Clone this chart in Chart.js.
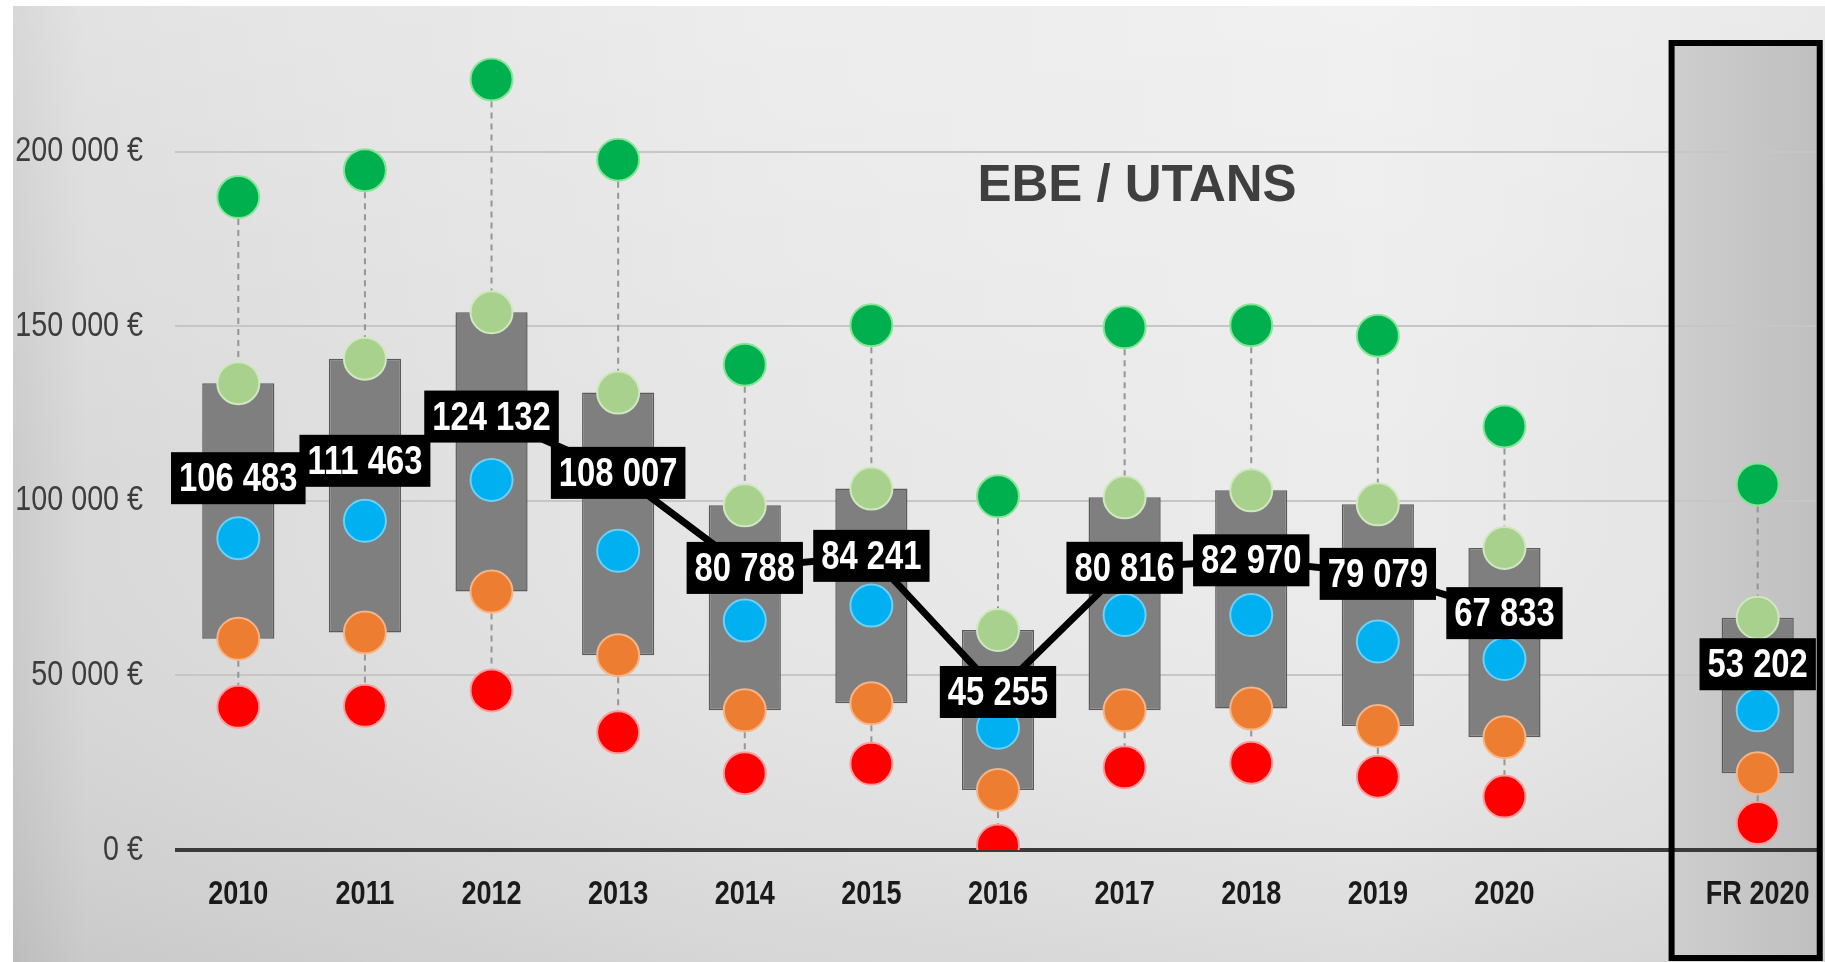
<!DOCTYPE html>
<html>
<head>
<meta charset="utf-8">
<title>EBE / UTANS</title>
<script src="https://cdn.jsdelivr.net/npm/chart.js@4.4.1/dist/chart.umd.min.js"></script>
<style>
  html, body { margin: 0; padding: 0; background: #fff; }
  #wrap { width: 1825px; height: 962px; position: relative; }
</style>
</head>
<body>
<div id="wrap"><canvas id="chart"></canvas></div>
<script>
// categories (empty slot separates the regional years from the national reference)
const labels = ['2010', '2011', '2012', '2013', '2014', '2015', '2016', '2017', '2018', '2019', '2020', '', 'FR 2020'];

// EBE / UTANS distribution, in euros
const decile9 = [187000, 194700, 220700, 197700, 139000, 150300, 101300, 149700, 150300, 147300, 121300, null, 104700];
const quart3  = [133700, 140700, 154000, 131000, 98700, 103500, 63000, 101000, 103000, 99000, 86500, null, 66500];
const median  = [89300, 94300, 106000, 85700, 65700, 70000, 35000, 67300, 67300, 59700, 54700, null, 40000];
const quart1  = [60500, 62300, 74000, 55800, 40000, 42000, 17200, 40000, 40500, 35500, 32300, null, 22000];
const decile1 = [41000, 41300, 45700, 33700, 22000, 24700, 1300, 23700, 25000, 21000, 15300, null, 7700];
const mean    = [106483, 111463, 124132, 108007, 80788, 84241, 45255, 80816, 82970, 79079, 67833, null, 53202];

const yTicks = [0, 50000, 100000, 150000, 200000];

// "Narrow" is not installed: it falls back to Liberation Sans and gets squeezed below
const NARROW = 'Narrow, "Liberation Sans", Arial, sans-serif';
const SQUEEZE = 0.82;

const fmt = v => v.toString().replace(/\B(?=(\d{3})+(?!\d))/g, ' ');

// imitate Arial Narrow by compressing any text set in the NARROW stack
const narrowText = {
    id: 'narrowText',
    beforeInit(chart) {
        const ctx = chart.ctx;
        const fill = ctx.fillText;
        ctx.fillText = function (text, x, y, maxWidth) {
            if (!this.font.includes('Narrow')) return fill.call(this, text, x, y, maxWidth);
            this.save();
            this.translate(x, y);
            this.scale(SQUEEZE, 1);
            fill.call(this, text, 0, 0);
            this.restore();
        };
    }
};

// page background + the shaded "FR 2020" panel
const panelEdges = (chart) => {
    const x = chart.scales.x;
    const fx = x.getPixelForValue(labels.length - 1);
    const step = x.width / labels.length;
    return [fx - step * 0.68, fx + step * 0.49];
};

const backdrop = {
    id: 'backdrop',
    beforeDraw(chart) {
        const { ctx, width, height } = chart;
        ctx.save();
        ctx.fillStyle = '#ffffff';
        ctx.fillRect(0, 0, width, height);

        const g = ctx.createLinearGradient(13, 0, width, 0);
        g.addColorStop(0, '#cbcbcb');
        g.addColorStop(0.04, '#d9d9d9');
        g.addColorStop(0.4, '#e6e6e6');
        g.addColorStop(0.75, '#ececec');
        g.addColorStop(1, '#e2e2e2');
        ctx.fillStyle = g;
        ctx.fillRect(13, 6, width - 13, height - 6);

        const v = ctx.createLinearGradient(0, 6, 0, height);
        v.addColorStop(0, 'rgba(255,255,255,0.25)');
        v.addColorStop(0.5, 'rgba(255,255,255,0)');
        v.addColorStop(1, 'rgba(0,0,0,0.07)');
        ctx.fillStyle = v;
        ctx.fillRect(13, 6, width - 13, height - 6);

        const [left, right] = panelEdges(chart);
        const p = ctx.createLinearGradient(left, 0, right, 0);
        p.addColorStop(0, '#cecece');
        p.addColorStop(1, '#bfbfbf');
        ctx.fillStyle = p;
        ctx.fillRect(left, 43, right - left, 915);
        ctx.restore();
    },
    afterDraw(chart) {
        const { ctx } = chart;
        const [left, right] = panelEdges(chart);
        ctx.save();
        ctx.strokeStyle = '#000';
        ctx.lineWidth = 6;
        ctx.strokeRect(left, 43, right - left, 915);

        ctx.fillStyle = '#3f3f3f';
        ctx.font = 'bold 51px "Liberation Sans", Arial, sans-serif';
        ctx.textAlign = 'center';
        ctx.textBaseline = 'middle';
        ctx.fillText('EBE / UTANS', 1137, 187);
        ctx.restore();
    }
};

// dashed whiskers: 9th decile -> Q3 and Q1 -> 1st decile
const whiskers = {
    id: 'whiskers',
    beforeDatasetsDraw(chart) {
        const { ctx, scales: { x, y } } = chart;
        ctx.save();
        ctx.strokeStyle = '#959595';
        ctx.lineWidth = 2;
        ctx.setLineDash([6, 5]);
        labels.forEach((_, i) => {
            if (decile9[i] == null) return;
            const px = x.getPixelForValue(i);
            [[decile9[i], quart3[i]], [quart1[i], decile1[i]]].forEach(([a, b]) => {
                ctx.beginPath();
                ctx.moveTo(px, y.getPixelForValue(a));
                ctx.lineTo(px, y.getPixelForValue(b));
                ctx.stroke();
            });
        });
        ctx.restore();
    }
};

// black value boxes on the mean line
const meanLabels = {
    id: 'meanLabels',
    afterDatasetsDraw(chart) {
        const { ctx, scales: { x, y } } = chart;
        ctx.save();
        ctx.font = 'bold 40px ' + NARROW;
        ctx.textAlign = 'center';
        ctx.textBaseline = 'middle';
        mean.forEach((v, i) => {
            if (v == null) return;
            const px = x.getPixelForValue(i);
            const py = y.getPixelForValue(v);
            const txt = fmt(v);
            const w = ctx.measureText(txt).width * SQUEEZE + 16;
            const h = 52;
            ctx.fillStyle = '#000';
            ctx.fillRect(px - w / 2, py - h / 2, w, h);
            ctx.fillStyle = '#fff';
            ctx.fillText(txt, px, py + 2);
        });
        ctx.restore();
    }
};

const dots = (data, fill, rim) => ({
    type: 'line',
    data,
    showLine: false,
    pointRadius: 21,
    pointHoverRadius: 21,
    pointBackgroundColor: fill,
    pointBorderColor: rim,
    pointBorderWidth: 2,
    order: 3
});

new Chart(document.getElementById('chart'), {
    data: {
        labels,
        datasets: [
            {
                type: 'bar',
                data: quart1.map((v, i) => v == null ? null : [v, quart3[i]]),
                backgroundColor: '#7f7f7f',
                borderColor: '#5c5c5c',
                borderWidth: 1.5,
                borderSkipped: false,
                barPercentage: 0.57,
                categoryPercentage: 1,
                order: 5
            },
            dots(decile9, '#00b04f', '#86e596'),
            dots(quart3, '#a9d18e', '#cfe8bf'),
            dots(median, '#00b0f0', '#6fd0f5'),
            dots(quart1, '#ed7d31', '#f5b589'),
            dots(decile1, '#ff0000', '#ff9c9c'),
            {
                type: 'line',
                data: mean,
                borderColor: '#000',
                borderWidth: 7,
                pointRadius: 0,
                tension: 0,
                order: 1
            }
        ]
    },
    options: {
        responsive: true,
        maintainAspectRatio: false,
        animation: false,
        layout: { autoPadding: false, padding: { top: 12, right: 4, left: 0, bottom: 0 } },
        plugins: {
            legend: { display: false },
            tooltip: { enabled: false },
            title: { display: false }
        },
        scales: {
            x: {
                offset: true,
                grid: { display: false, drawTicks: false },
                border: { display: false },
                ticks: {
                    color: '#1a1a1a',
                    font: { family: NARROW, size: 33, weight: 'bold' },
                    padding: 25,
                    maxRotation: 0,
                    autoSkip: false
                },
                afterFit(s) {
                    s.height = 112;
                    s.paddingLeft = 0;
                    s.paddingRight = 0;
                }
            },
            y: {
                min: 0,
                max: 240000,
                afterBuildTicks(s) { s.ticks = yTicks.map(value => ({ value })); },
                ticks: {
                    padding: 32,
                    color: '#3d3d3d',
                    font: { family: NARROW, size: 35 },
                    callback: v => fmt(v) + ' €'
                },
                grid: {
                    color: c => c.tick && c.tick.value === 0 ? '#3a3a3a' : '#c6c6c6',
                    lineWidth: c => c.tick && c.tick.value === 0 ? 4 : 2,
                    drawTicks: false
                },
                border: { display: false },
                afterFit(s) {
                    s.width = 175;
                    s.paddingTop = 0;
                    s.paddingBottom = 0;
                }
            }
        }
    },
    plugins: [narrowText, backdrop, whiskers, meanLabels]
});
</script>
</body>
</html>
